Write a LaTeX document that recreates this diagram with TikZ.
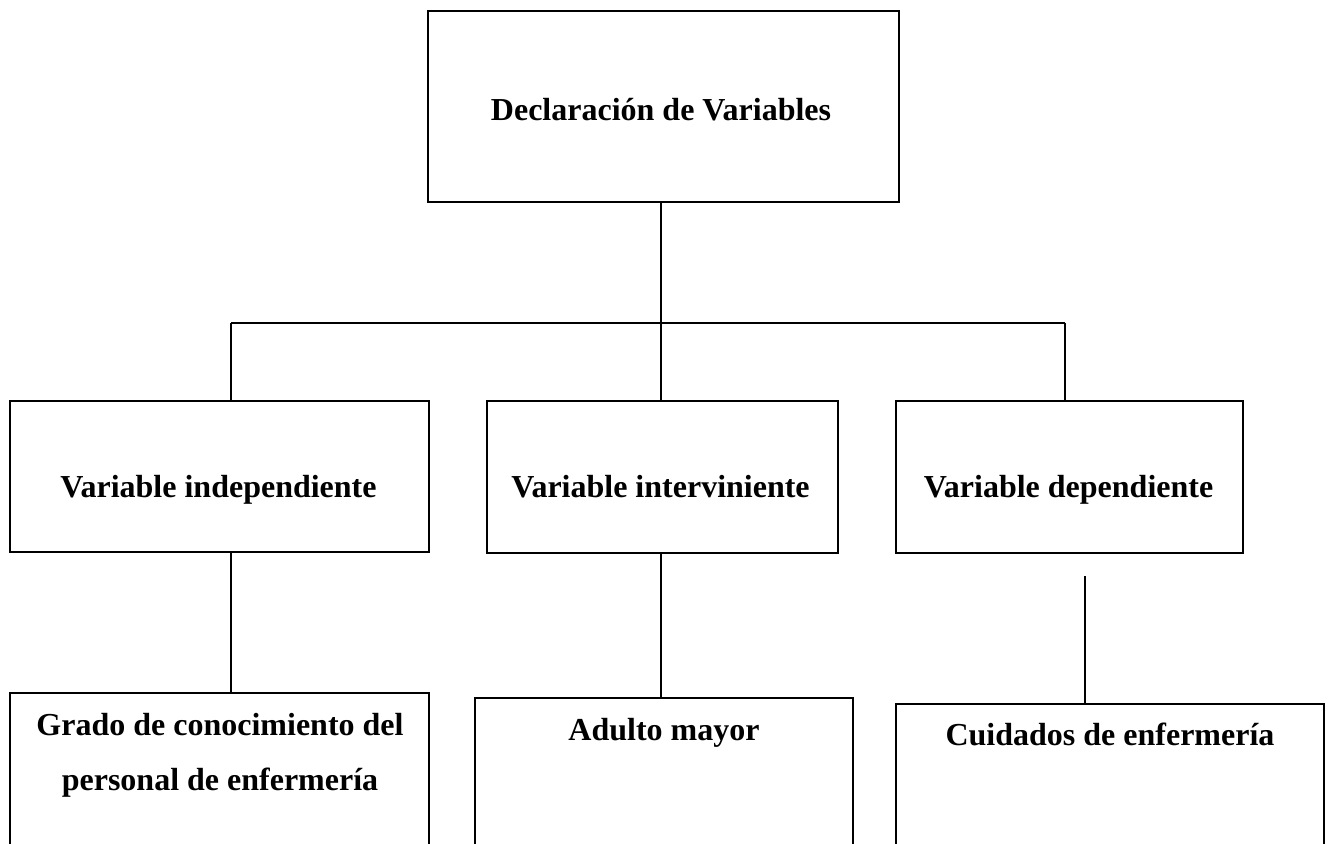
\documentclass[tikz,border=0pt]{standalone}
\usepackage{fontspec}
\setmainfont{Liberation Serif}
\begin{document}
\begin{tikzpicture}[x=0.5pt,y=-0.5pt,
  box/.style={draw=black,line width=1.1pt,inner sep=0pt,rectangle},
  lbl/.style={font=\bfseries\fontsize{16pt}{19pt}\selectfont,inner sep=0pt,anchor=base},
  conn/.style={draw=black,line width=1.1pt}]
\useasboundingbox (0,0) rectangle (1328,844);
\clip (0,0) rectangle (1328,844);
\fill[white] (0,0) rectangle (1328,844);
% boxes
\node[box,minimum width=235.5pt,minimum height=95.5pt] (top) at (663.5,106.5) {};
\node[box,minimum width=209.5pt,minimum height=75.5pt] (b1) at (219.5,476.5) {};
\node[box,minimum width=175.5pt,minimum height=76pt] (b2) at (662.5,477) {};
\node[box,minimum width=173.5pt,minimum height=76pt] (b3) at (1069.5,477) {};
\node[box,minimum width=209.5pt,minimum height=103.5pt] (b4) at (219.5,796.5) {};
\node[box,minimum width=189pt,minimum height=101pt] (b5) at (664,799) {};
\node[box,minimum width=214pt,minimum height=98pt] (b6) at (1110,802) {};
% labels
\node[lbl] (t0) at (661,121) {Declaración de Variables};
\node[lbl] (t1) at (218.5,497) {Variable independiente};
\node[lbl] (t2) at (660.5,497) {Variable interviniente};
\node[lbl] (t3) at (1068.5,497) {Variable dependiente};
\node[lbl] (t4a) at (220,735) {Grado de conocimiento del};
\node[lbl] (t4b) at (220,790) {personal de enfermería};
\node[lbl] (t5) at (664,740) {Adulto mayor};
\node[lbl] (t6) at (1110,745) {Cuidados de enfermería};
% junctions
\coordinate (jc) at (661,323);
\coordinate (jl) at (231,323);
\coordinate (jr) at (1065,323);
\coordinate (c3) at (1085,576);
% connectors
\draw[conn] (top.south -| jc) -- (jc);
\draw[conn] (jl) -- (jr);
\draw[conn] (jl) -- (jl |- b1.north);
\draw[conn] (jc) -- (jc |- b2.north);
\draw[conn] (jr) -- (jr |- b3.north);
\draw[conn] (b1.south -| jl) -- (b4.north -| jl);
\draw[conn] (b2.south -| jc) -- (b5.north -| jc);
\draw[conn] (c3) -- (c3 |- b6.north);
\end{tikzpicture}
\end{document}
